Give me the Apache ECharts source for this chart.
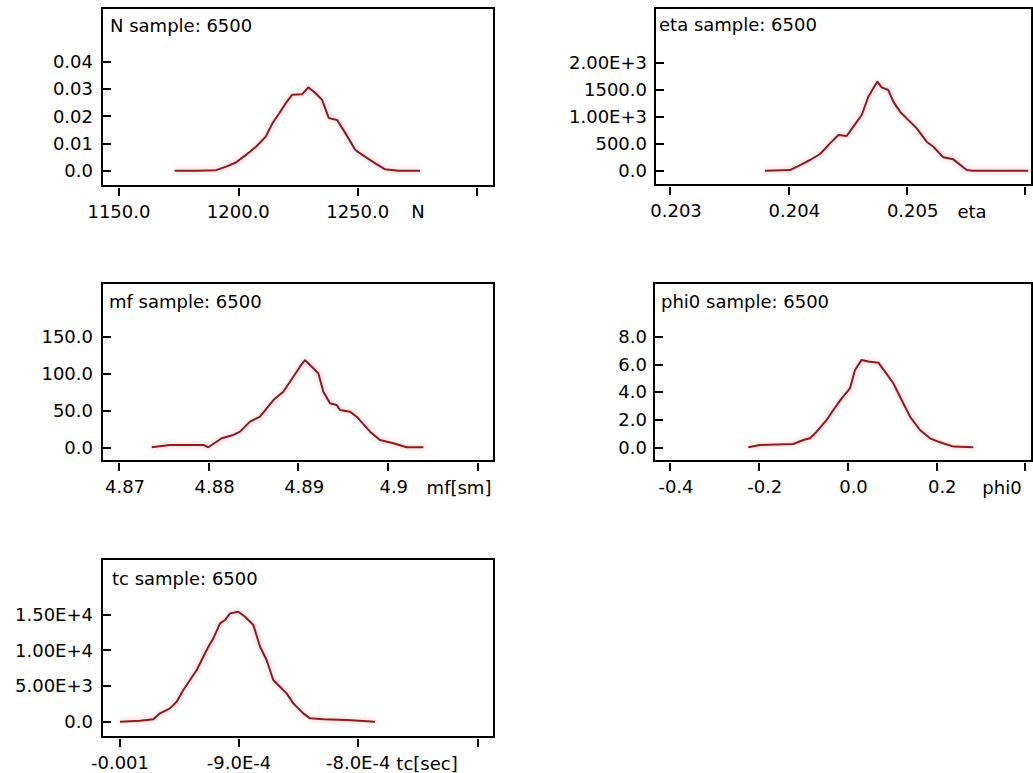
<!DOCTYPE html>
<html><head><meta charset="utf-8">
<script src="https://cdn.jsdelivr.net/npm/echarts@6/dist/echarts.min.js"></script>
<style>html,body{margin:0;padding:0;background:#fff}#c{width:1033px;height:773px}</style>
</head><body><div id="c"></div>
<script>
// ---------- data ----------
const sampleSize = 6500;

// Panel N
const nX = [1173.3, 1182.4, 1190.7, 1194.9, 1199.0, 1203.2, 1207.4, 1211.5, 1214.3, 1217.1, 1219.9, 1222.6, 1226.8, 1229.3, 1232.4, 1235.1, 1237.9, 1241.4, 1244.9, 1249.0, 1253.2, 1257.4, 1261.5, 1267.1, 1276.1];
const nY = [0, 0, 0.0002, 0.0015, 0.0030, 0.0058, 0.0088, 0.0125, 0.0174, 0.0210, 0.0248, 0.0279, 0.0281, 0.0306, 0.0284, 0.0260, 0.0193, 0.0186, 0.0137, 0.0076, 0.0051, 0.0027, 0.0005, 0, 0];
const nXTicks = [1150, 1200, 1250, 1300];
const nXLabels = ['1150.0', '1200.0', '1250.0'];
const nYTicks = [0, 0.01, 0.02, 0.03, 0.04];
const nYLabels = ['0.0', '0.01', '0.02', '0.03', '0.04'];

// Panel eta
const etaX = [0.203803, 0.204014, 0.204099, 0.204183, 0.204268, 0.204352, 0.204423, 0.204493, 0.204549, 0.204620, 0.204676, 0.204718, 0.204752, 0.204789, 0.204845, 0.204887, 0.204944, 0.205000, 0.205085, 0.205169, 0.205225, 0.205310, 0.205394, 0.205507, 0.205563, 0.206028];
const etaY = [0, 12, 105, 198, 309, 506, 660, 642, 815, 1031, 1370, 1525, 1648, 1543, 1494, 1278, 1093, 969, 784, 537, 444, 247, 210, 12, 0, 0];
const etaXTicks = [0.203, 0.204, 0.205, 0.206];
const etaXLabels = ['0.203', '0.204', '0.205'];
const etaYTicks = [0, 500, 1000, 1500, 2000];
const etaYLabels = ['0.0', '500.0', '1.00E+3', '1500.0', '2.00E+3'];

// Panel mf
const mfX = [4.87365, 4.87569, 4.87941, 4.87997, 4.88146, 4.88276, 4.88351, 4.88462, 4.88574, 4.88723, 4.88834, 4.88946, 4.89020, 4.89076, 4.89132, 4.89225, 4.89281, 4.89355, 4.89430, 4.89467, 4.89579, 4.89653, 4.89802, 4.89913, 4.90062, 4.90211, 4.90397];
const mfY = [0, 3.2, 3.2, 0, 12.2, 16.7, 21.2, 34.8, 41.5, 64.1, 75.4, 95.7, 109.3, 118.4, 111.6, 100.3, 75.4, 59.6, 57.3, 50.6, 48.3, 41.5, 21.2, 9.9, 5.4, 0, 0];
const mfXTicks = [4.87, 4.88, 4.89, 4.90, 4.91];
const mfXLabels = ['4.87', '4.88', '4.89', '4.9'];
const mfYTicks = [0, 50, 100, 150];
const mfYLabels = ['0.0', '50.0', '100.0', '150.0'];

// Panel phi0
const phiX = [-0.2235, -0.1972, -0.1221, -0.0995, -0.0845, -0.0695, -0.0469, -0.0319, -0.0131, 0.0056, 0.0169, 0.0319, 0.0469, 0.0695, 0.0845, 0.1033, 0.1183, 0.1408, 0.1634, 0.1859, 0.2085, 0.2385, 0.2836];
const phiY = [0, 0.17, 0.24, 0.53, 0.65, 1.13, 1.98, 2.70, 3.54, 4.27, 5.59, 6.32, 6.20, 6.12, 5.47, 4.63, 3.66, 2.22, 1.25, 0.65, 0.36, 0.05, 0];
const phiXTicks = [-0.4, -0.2, 0.0, 0.2, 0.4];
const phiXLabels = ['-0.4', '-0.2', '0.0', '0.2'];
const phiYTicks = [0, 2, 4, 6, 8];
const phiYLabels = ['0.0', '2.0', '4.0', '6.0', '8.0'];

// Panel tc
const tcX = [-0.001, -0.000983, -0.000972, -0.0009664, -0.000958, -0.0009524, -0.0009468, -0.0009412, -0.0009356, -0.00093, -0.0009258, -0.0009216, -0.000916, -0.0009118, -0.0009076, -0.0009006, -0.000895, -0.000888, -0.0008824, -0.0008769, -0.0008713, -0.0008657, -0.0008601, -0.0008545, -0.0008461, -0.0008405, -0.0008293, -0.0008097, -0.0007859];
const tcY = [0, 140, 326, 1164, 1862, 2793, 4423, 5819, 7216, 9078, 10475, 11639, 13734, 14199, 15130, 15363, 14665, 13501, 10475, 8613, 5819, 4888, 3957, 2561, 1164, 466, 326, 233, 0];
const tcXTicks = [-0.001, -0.0009, -0.0008, -0.0007];
const tcXLabels = ['-0.001', '-9.0E-4', '-8.0E-4'];
const tcYTicks = [0, 5000, 10000, 15000];
const tcYLabels = ['0.0', '5.00E+3', '1.00E+4', '1.50E+4'];

// ---------- layout ----------
const FONT = 'DejaVu Sans';
const FS = 18;
const TXT = '#000';
const LINE = '#8a1a22';

const panels = [
  { name: 'N', title: 'N sample: ' + sampleSize, x: nX, y: nY, xt: nXTicks, xl: nXLabels, yt: nYTicks, yl: nYLabels,
    grid: [102, 8, 392, 178], xr: [1142.9, 1307.1], yr: [-0.00561, 0.05971], yMargin: 9, xShift: 0,
    titlePos: [110, 27], namePos: [418, 211] },
  { name: 'eta', title: 'eta sample: ' + sampleSize, x: etaX, y: etaY, xt: etaXTicks, xl: etaXLabels, yt: etaYTicks, yl: etaYLabels,
    grid: [655, 8, 377, 177], xr: [0.202873, 0.206059], yr: [-265, 3013], yMargin: 8, xShift: 12,
    titlePos: [659, 26], namePos: [972, 211] },
  { name: 'mf[sm]', title: 'mf sample: ' + sampleSize, x: mfX, y: mfY, xt: mfXTicks, xl: mfXLabels, yt: mfYTicks, yl: mfYLabels,
    grid: [102, 283, 392, 178], xr: [4.86810, 4.91186], yr: [-18.6, 222.8], yMargin: 9, xShift: 12,
    titlePos: [109, 303], namePos: [459, 487] },
  { name: 'phi0', title: 'phi0 sample: ' + sampleSize, x: phiX, y: phiY, xt: phiXTicks, xl: phiXLabels, yt: phiYTicks, yl: phiYLabels,
    grid: [654, 283, 378, 178], xr: [-0.43606, 0.41577], yr: [-0.991, 11.884], yMargin: 7, xShift: 12,
    titlePos: [661, 303], namePos: [1002, 487] },
  { name: 'tc[sec]', title: 'tc sample: ' + sampleSize, x: tcX, y: tcY, xt: tcXTicks, xl: tcXLabels, yt: tcYTicks, yl: tcYLabels,
    grid: [102, 559, 392, 178], xr: [-0.0010151, -0.00068598], yr: [-2137, 22723], yMargin: 9, xShift: 0,
    titlePos: [112, 580], namePos: [427, 763] }
];

function labelFor(values, texts) {
  return function (v) {
    for (let i = 0; i < texts.length; i++) {
      if (Math.abs(values[i] - v) <= Math.abs(values[values.length - 1] - values[0]) * 1e-6 + 1e-15) return texts[i];
    }
    return '';
  };
}

const grids = [], xAxes = [], yAxes = [], series = [], graphics = [];
panels.forEach((p, i) => {
  grids.push({ left: p.grid[0], top: p.grid[1], width: p.grid[2], height: p.grid[3],
    show: true, borderColor: '#000', borderWidth: 2, outerBoundsMode: 'none' });
  xAxes.push({
    type: 'value', gridIndex: i, min: p.xr[0], max: p.xr[1], offset: 2,
    axisLine: { show: false, onZero: false }, splitLine: { show: false },
    axisTick: { show: true, inside: false, length: 8, customValues: p.xt, lineStyle: { color: '#000', width: 2 } },
    axisLabel: { show: true, customValues: p.xt.slice(0, p.xl.length), formatter: labelFor(p.xt, p.xl),
      margin: 14, color: TXT, fontFamily: FONT, fontSize: FS, padding: [0, 0, 0, p.xShift] }
  });
  yAxes.push({
    type: 'value', gridIndex: i, min: p.yr[0], max: p.yr[1],
    axisLine: { show: false, onZero: false }, splitLine: { show: false },
    axisTick: { show: true, inside: true, length: 9, customValues: p.yt, lineStyle: { color: '#000', width: 2 } },
    axisLabel: { show: true, customValues: p.yt, formatter: labelFor(p.yt, p.yl),
      margin: p.yMargin, color: TXT, fontFamily: FONT, fontSize: FS }
  });
  series.push({
    type: 'line', xAxisIndex: i, yAxisIndex: i, showSymbol: false, symbol: 'none',
    data: p.x.map((v, k) => [v, p.y[k]]),
    lineStyle: { color: LINE, width: 2, shadowColor: 'rgba(235,70,70,0.45)', shadowBlur: 5 },
    z: 3
  });
  graphics.push({ type: 'text', left: p.titlePos[0], top: p.titlePos[1] - 11,
    style: { text: p.title, fill: TXT, font: FS + 'px "' + FONT + '"' }, z: 10 });
  graphics.push({ type: 'text', x: p.namePos[0], y: p.namePos[1],
    style: { text: p.name, fill: TXT, font: FS + 'px "' + FONT + '"', align: 'center', verticalAlign: 'middle' }, z: 10 });
});

const chart = echarts.init(document.getElementById('c'), null, { renderer: 'svg', width: 1033, height: 773 });
chart.setOption({
  animation: false,
  backgroundColor: '#fff',
  grid: grids, xAxis: xAxes, yAxis: yAxes, series: series, graphic: graphics
});
</script>
</body></html>
